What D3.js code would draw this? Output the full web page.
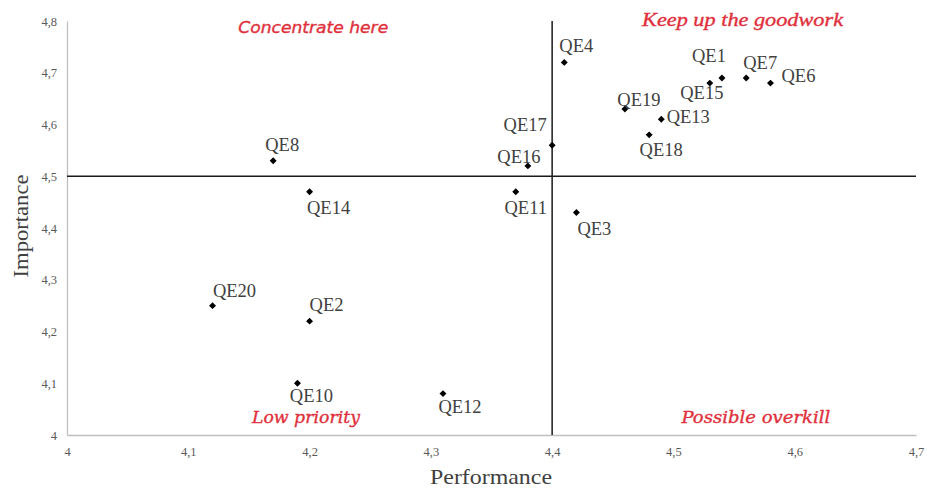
<!DOCTYPE html>
<html>
<head>
<meta charset="utf-8">
<script src="https://cdn.jsdelivr.net/npm/d3@7"></script>
<style>
  body { margin: 0; background: #fff; }
</style>
</head>
<body>
<svg id="chart" width="927" height="488"></svg>
<script>
const items = ["QE1", "QE2", "QE3", "QE4", "QE6", "QE7", "QE8", "QE10", "QE11", "QE12",
  "QE13", "QE14", "QE15", "QE16", "QE17", "QE18", "QE19", "QE20"];
const performance = [4.54, 4.2, 4.42, 4.41, 4.58, 4.56, 4.17, 4.19, 4.37, 4.31,
  4.49, 4.2, 4.53, 4.38, 4.4, 4.48, 4.46, 4.12];
const importance = [4.69, 4.22, 4.43, 4.72, 4.68, 4.69, 4.53, 4.1, 4.47, 4.08,
  4.61, 4.47, 4.68, 4.52, 4.56, 4.58, 4.63, 4.25];
const xTicks = [4, 4.1, 4.2, 4.3, 4.4, 4.5, 4.6, 4.7];
const yTicks = [4, 4.1, 4.2, 4.3, 4.4, 4.5, 4.6, 4.7, 4.8];
const perfMean = 4.4;
const impMean = 4.5;

// label placement around each marker (layout only)
const labelPos = {
  QE1: [-13, -22], QE2: [17, -16], QE3: [18, 17], QE4: [12, -16], QE6: [28, -7],
  QE7: [14, -15], QE8: [9, -16], QE10: [14, 13], QE11: [10, 16], QE12: [17, 13],
  QE13: [27, -2], QE14: [19, 16], QE15: [-8, 10], QE16: [-9, -9], QE17: [-27, -20],
  QE18: [12, 15], QE19: [14, -9], QE20: [22, -15]
};

const data = items.map((name, i) => ({ name, x: performance[i], y: importance[i] }));

const svg = d3.select("#chart");
const margin = { top: 21, right: 11, bottom: 53, left: 67 };
const width = 927 - margin.left - margin.right;
const height = 488 - margin.top - margin.bottom;

const g = svg.append("g").attr("transform", `translate(${margin.left},${margin.top})`);

const x = d3.scaleLinear().domain([4, 4.7]).range([0, width]);
const y = d3.scaleLinear().domain([4, 4.8]).range([height, 0]);
const fmt = (d) => (d === 4 ? "4" : d3.format(".1f")(d).replace(".", ","));

// axes
const xAxis = g.append("g")
  .attr("transform", `translate(0,${height})`)
  .call(d3.axisBottom(x).tickValues(xTicks).tickFormat(fmt).tickSize(0).tickPadding(12));
const yAxis = g.append("g")
  .call(d3.axisLeft(y).tickValues(yTicks).tickFormat(fmt).tickSize(0).tickPadding(10));
[xAxis, yAxis].forEach((a) => {
  a.select(".domain").attr("stroke", "#bfbfbf").attr("stroke-width", 1.3);
  a.selectAll("text")
    .attr("fill", "#595959")
    .style("font-family", "'Liberation Serif', serif")
    .style("font-size", "12.5px");
});

// quadrant lines
g.append("line")
  .attr("x1", x(perfMean)).attr("x2", x(perfMean))
  .attr("y1", y(4.8)).attr("y2", y(4))
  .attr("stroke", "#1a1a1a").attr("stroke-width", 1.5);
g.append("line")
  .attr("x1", x(4)).attr("x2", x(4.7))
  .attr("y1", y(impMean)).attr("y2", y(impMean))
  .attr("stroke", "#1a1a1a").attr("stroke-width", 1.5);

// markers
const diamond = d3.symbol().type(d3.symbolSquare).size(24);
g.selectAll(".pt")
  .data(data)
  .join("path")
  .attr("class", "pt")
  .attr("d", diamond)
  .attr("transform", (d) => `translate(${x(d.x)},${y(d.y)}) rotate(45)`)
  .attr("fill", "#000");

// point labels
g.selectAll(".lbl")
  .data(data)
  .join("text")
  .attr("class", "lbl")
  .attr("x", (d) => x(d.x) + labelPos[d.name][0])
  .attr("y", (d) => y(d.y) + labelPos[d.name][1])
  .attr("text-anchor", "middle")
  .attr("dominant-baseline", "central")
  .attr("fill", "#404040")
  .style("font-family", "'Liberation Serif', serif")
  .style("font-size", "18.5px")
  .text((d) => d.name);

// quadrant titles
const quads = [
  { t: "Concentrate here", x: 4.203, y: 4.788, f: "'DejaVu Sans', sans-serif", s: 16, w: 150 },
  { t: "Keep up the goodwork", x: 4.557, y: 4.803, f: "'Liberation Serif', serif", s: 19, w: 201 },
  { t: "Low priority", x: 4.197, y: 4.033, f: "'DejaVu Serif', serif", s: 16.5, w: 108 },
  { t: "Possible overkill", x: 4.568, y: 4.033, f: "'DejaVu Serif', serif", s: 16.5, w: 149 }
];
g.selectAll(".quad")
  .data(quads)
  .join("text")
  .attr("class", "quad")
  .attr("x", (d) => x(d.x))
  .attr("y", (d) => y(d.y))
  .attr("text-anchor", "middle")
  .attr("dominant-baseline", "central")
  .attr("textLength", (d) => d.w)
  .attr("lengthAdjust", "spacingAndGlyphs")
  .attr("fill", "#e0303c")
  .attr("stroke", "#e0303c")
  .attr("stroke-width", 0.35)
  .style("font-style", "italic")
  .style("font-family", (d) => d.f)
  .style("font-size", (d) => d.s + "px")
  .text((d) => d.t);

// axis titles
svg.append("text")
  .attr("x", 491).attr("y", 484)
  .attr("text-anchor", "middle")
  .attr("textLength", 122).attr("lengthAdjust", "spacingAndGlyphs")
  .attr("fill", "#404040")
  .style("font-family", "'Liberation Serif', serif").style("font-size", "22px")
  .text("Performance");
svg.append("text")
  .attr("transform", "translate(20,226) rotate(-90)")
  .attr("text-anchor", "middle").attr("dominant-baseline", "central")
  .attr("textLength", 103).attr("lengthAdjust", "spacingAndGlyphs")
  .attr("fill", "#404040")
  .style("font-family", "'Liberation Serif', serif").style("font-size", "22px")
  .text("Importance");
</script>
</body>
</html>
